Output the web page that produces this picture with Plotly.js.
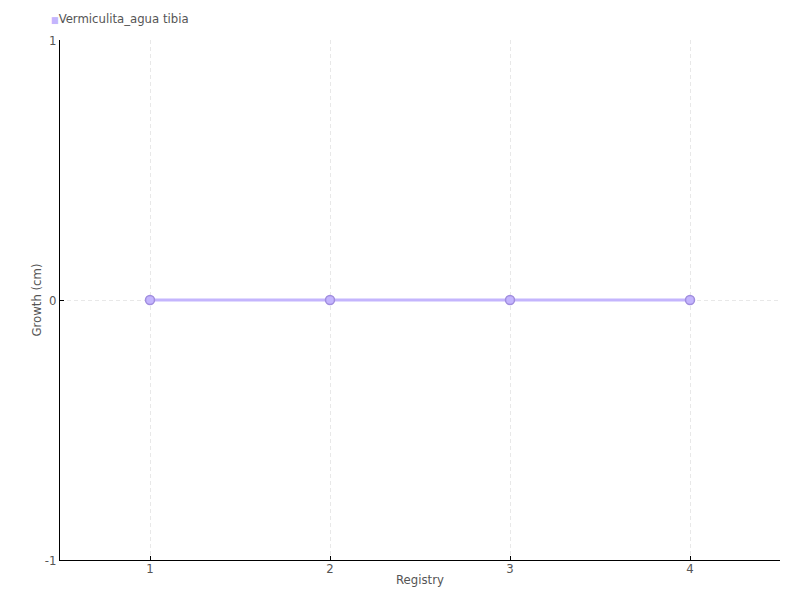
<!DOCTYPE html>
<html>
<head>
<meta charset="utf-8">
<script src="https://cdn.plot.ly/plotly-3.0.1.min.js"></script>
<style>html,body{margin:0;padding:0;background:#fff;}#chart{width:800px;height:600px;}</style>
</head>
<body>
<div id="chart"></div>
<script>
const seriesName = "Vermiculita_agua tibia";
const registry = [1, 2, 3, 4];
const growth = [0, 0, 0, 0];
const yTicks = [-1, 0, 1];
const xTitle = "Registry";
const yTitle = "Growth (cm)";

const fontFam = '"DejaVu Sans Condensed", "Liberation Sans Narrow", "Liberation Sans", sans-serif';
const lineColor = '#c4b5fd';

const trace = {
  x: registry,
  y: growth,
  type: 'scatter',
  mode: 'lines+markers',
  name: seriesName,
  line: {color: lineColor, width: 3},
  marker: {color: lineColor, size: 9, line: {color: '#a08ddf', width: 1.5}},
  showlegend: false
};

const axisCommon = {
  showline: true,
  linecolor: '#000',
  linewidth: 1,
  ticks: 'inside',
  ticklen: 4,
  tickcolor: '#000',
  showgrid: true,
  gridcolor: '#e8e8e8',
  griddash: '4px,3px',
  zeroline: false,
  tickfont: {family: fontFam, size: 13, color: '#555'},
  mirror: false
};

const layout = {
  width: 800,
  height: 600,
  margin: {l: 60, r: 20, t: 40, b: 40},
  paper_bgcolor: '#fff',
  plot_bgcolor: '#fff',
  font: {family: fontFam, size: 13, color: '#555'},
  xaxis: Object.assign({}, axisCommon, {
    range: [0.5, 4.5],
    tickvals: registry,
    ticktext: registry.map(String),
    ticklabelstandoff: -4,
    title: {text: xTitle, font: {family: fontFam, size: 13, color: '#555'}, standoff: 0}
  }),
  yaxis: Object.assign({}, axisCommon, {
    range: [-1, 1],
    tickvals: yTicks,
    ticktext: yTicks.map(String),
    ticklabelstandoff: 0,
    title: {text: yTitle, font: {family: fontFam, size: 13, color: '#555'}, standoff: 0}
  }),
  showlegend: false,
  annotations: [{
    xref: 'paper', yref: 'paper',
    x: -0.015, y: 1,
    xanchor: 'left', yanchor: 'bottom',
    yshift: 12,
    showarrow: false,
    align: 'left',
    text: '<span style="color:' + lineColor + ';font-size:9px">■</span>' + seriesName,
    font: {family: fontFam, size: 13, color: '#555'}
  }]
};

Plotly.newPlot('chart', [trace], layout, {displayModeBar: false, staticPlot: true});
</script>
</body>
</html>
